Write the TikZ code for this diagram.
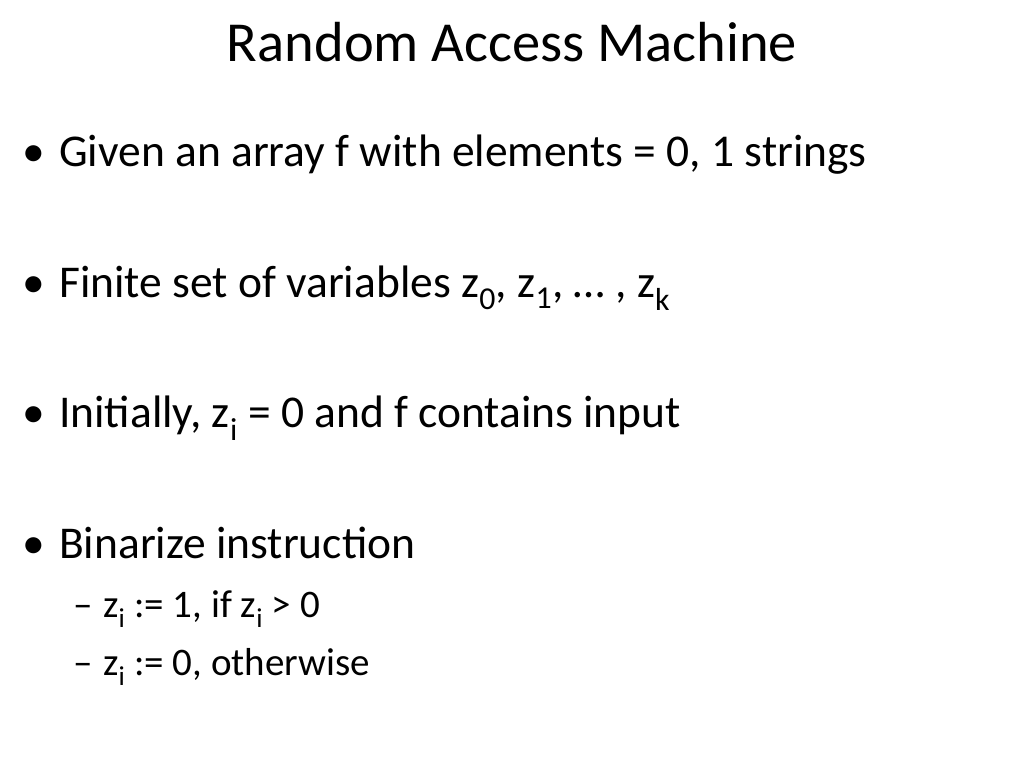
\documentclass[tikz,border=0pt]{standalone}
\usepackage{fontspec}
\setmainfont{Carlito}
\newcommand{\sub}[1]{\textsubscript{#1}}
\tikzset{
  lvlone/.style={anchor=base west, inner sep=0pt, font=\fontsize{45.5}{54}\selectfont},
  lvltwo/.style={anchor=base west, inner sep=0pt, font=\fontsize{39}{46}\selectfont},
  ttl/.style={anchor=base, inner sep=0pt, font=\fontsize{56.5}{66}\selectfont}
}
\begin{document}
\begin{tikzpicture}[x=1pt,y=-1pt]
  \useasboundingbox (0,0) rectangle (1024,768);
  \node [ttl](title) at (512,62) {Random Access Machine};
  % bullets
  \node [lvlone](b1) at (22,166) {•};
  \node [lvlone](t1) at (59,166) {Given an array f with elements = 0, 1 strings};
  \node [lvlone](b2) at (22,297) {•};
  \node [lvlone](t2) at (59,297) {Finite set of variables z\sub{0}, z\sub{1}, … , z\sub{k}};
  \node [lvlone](b3) at (22,427) {•};
  \node [lvlone](t3) at (59,427) {Initially, z\sub{i} = 0 and f contains input};
  \node [lvlone](b4) at (22,558) {•};
  \node [lvlone](t4) at (59,558) {Binarize instruction};
  % sub items
  \node [lvltwo](d1) at (73,617) {–};
  \node [lvltwo](s1) at (103,617) {z\sub{i} := 1, if z\sub{i} > 0};
  \node [lvltwo](d2) at (73,675) {–};
  \node [lvltwo](s2) at (103,675) {z\sub{i} := 0, otherwise};
\end{tikzpicture}
\end{document}
